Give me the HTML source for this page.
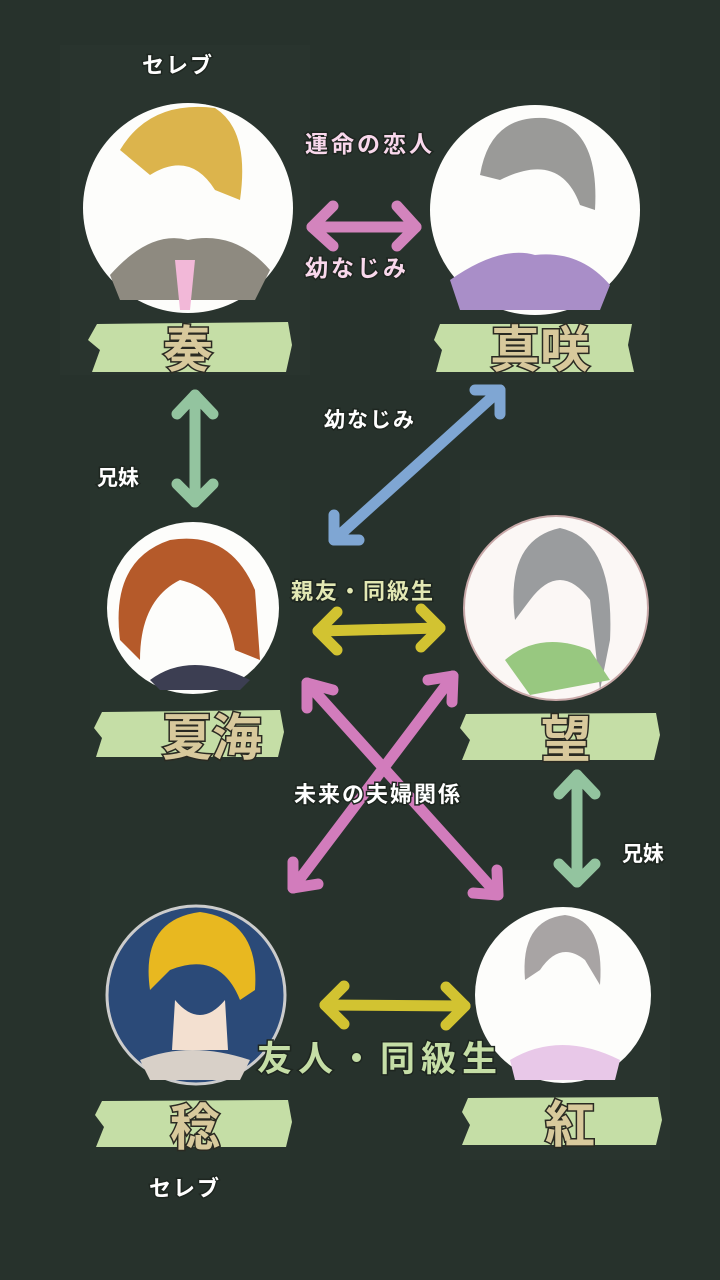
<!DOCTYPE html>
<html><head><meta charset="utf-8"><style>
html,body{margin:0;padding:0;background:#28332d;}
svg{display:block}
text{font-family:"Liberation Sans","Noto Sans CJK JP",sans-serif;font-weight:bold;}
</style></head><body>
<svg width="720" height="1280" viewBox="0 0 720 1280" xmlns="http://www.w3.org/2000/svg">
<rect width="720" height="1280" fill="#27322c"/>
<rect x="60" y="45" width="250" height="330" fill="#2c3832" opacity="0.4"/>
<rect x="410" y="50" width="250" height="330" fill="#2d3933" opacity="0.35"/>
<rect x="90" y="480" width="200" height="290" fill="#2c3832" opacity="0.35"/>
<rect x="460" y="470" width="230" height="300" fill="#2e3a34" opacity="0.3"/>
<rect x="90" y="860" width="200" height="300" fill="#2c3832" opacity="0.35"/>
<rect x="460" y="870" width="210" height="290" fill="#2d3933" opacity="0.35"/>

<g>
<circle cx="188" cy="208" r="105" fill="#fdfdfb"/>
<path d="M120 150 Q150 100 215 108 Q250 130 240 200 L215 190 Q190 150 150 175 Z" fill="#dcb44c"/>
<path d="M110 275 Q150 230 188 240 Q235 230 270 270 L255 300 L120 300 Z" fill="#8e8a80"/>
<path d="M175 260 L195 260 L190 310 L180 310 Z" fill="#f2b8d8"/>
<circle cx="535" cy="210" r="105" fill="#fdfdfb"/>
<path d="M480 175 Q490 115 545 118 Q600 125 595 210 L580 205 Q560 150 500 180 Z" fill="#9a9a98"/>
<path d="M450 280 Q500 245 535 255 Q580 250 610 285 L600 310 L460 310 Z" fill="#a98ec8"/>
<circle cx="193" cy="608" r="86" fill="#fdfdfb"/>
<path d="M120 640 Q110 560 170 540 Q230 530 255 590 L260 660 L235 650 Q225 590 180 580 Q140 600 140 660 Z" fill="#b55a2a"/>
<path d="M150 680 Q190 650 250 680 L240 690 L160 690 Z" fill="#3c3e52"/>
<circle cx="556" cy="608" r="92" fill="#fbf7f5" stroke="#c8a8a8" stroke-width="2"/>
<path d="M515 620 Q505 540 560 528 Q615 540 610 640 L600 690 L590 600 Q560 560 530 600 Z" fill="#9a9c9e"/>
<path d="M505 660 Q540 630 590 650 L610 680 L530 695 Z" fill="#98c880"/>
<circle cx="196" cy="995" r="89" fill="#2b4a78" stroke="#cccccc" stroke-width="3"/>
<path d="M150 990 Q140 920 200 912 Q260 920 255 990 L240 1000 Q220 950 170 970 Z" fill="#e8b820"/>
<path d="M175 1000 Q200 1030 225 1000 L228 1050 L172 1050 Z" fill="#f3e0d0"/>
<path d="M140 1060 Q190 1040 250 1060 L240 1080 L150 1080 Z" fill="#d8d0c8"/>
<circle cx="563" cy="995" r="88" fill="#fdfdfb"/>
<path d="M525 980 Q520 920 565 915 Q605 920 600 985 L585 960 Q560 940 540 970 Z" fill="#a8a4a4"/>
<path d="M510 1060 Q560 1030 620 1060 L615 1080 L515 1080 Z" fill="#e8c8e8"/>
</g>

<g fill="#c5dea6">
<path d="M97 324 L288 322 L292 345 L286 372 L92 372 L100 350 L88 340 Z"/>
<path d="M440 324 L632 324 L628 345 L634 372 L436 372 L442 350 L434 340 Z"/>
<path d="M102 712 L280 710 L284 732 L278 757 L96 757 L102 738 L94 728 Z"/>
<path d="M466 714 L656 713 L660 735 L654 760 L462 760 L470 740 L460 728 Z"/>
<path d="M102 1101 L288 1100 L292 1122 L286 1147 L96 1147 L104 1127 L95 1115 Z"/>
<path d="M468 1098 L658 1097 L662 1120 L656 1145 L462 1145 L470 1125 L462 1112 Z"/>
</g>
<g font-size="50" fill="#d8c99c" stroke="#2a2a22" stroke-width="3" paint-order="stroke" text-anchor="middle">
<text x="188" y="367">奏</text>
<text x="540" y="367">真咲</text>
<text x="212" y="755">夏海</text>
<text x="566" y="757">望</text>
<text x="195" y="1145">稔</text>
<text x="570" y="1142">紅</text>
</g>

<g fill="none" stroke-linecap="round" stroke-linejoin="round" stroke-width="11">
<g stroke="#d384bd">
<line x1="312" y1="227" x2="416" y2="227"/>
<polyline points="333,206 312,227 333,246"/>
<polyline points="397,206 416,227 397,246"/>
</g>
<g stroke="#93c49f">
<line x1="195" y1="395" x2="195" y2="502"/>
<polyline points="177,414 195,395 213,414"/>
<polyline points="177,484 195,502 213,484"/>
<line x1="577" y1="775" x2="577" y2="882"/>
<polyline points="559,794 577,775 595,794"/>
<polyline points="559,864 577,882 595,864"/>
</g>
<g stroke="#7fa6d3">
<line x1="500" y1="390" x2="334" y2="540"/>
<polyline points="475,390 500,390 500,414"/>
<polyline points="334,515 334,540 359,540"/>
</g>
<g stroke="#d2c331">
<line x1="318" y1="631" x2="440" y2="628"/>
<polyline points="337,612 318,631 337,650"/>
<polyline points="421,609 440,628 421,647"/>
<line x1="325" y1="1005" x2="465" y2="1006"/>
<polyline points="344,986 325,1005 344,1024"/>
<polyline points="446,987 465,1006 446,1025"/>
</g>
<g stroke="#d27cbc">
<line x1="307" y1="683" x2="498" y2="895"/>
<polyline points="307,708 307,683 333,690"/>
<polyline points="473,893 498,895 497,870"/>
<line x1="453" y1="676" x2="293" y2="888"/>
<polyline points="428,680 453,676 452,702"/>
<polyline points="293,862 293,888 318,884"/>
</g>
</g>

<g text-anchor="middle" stroke="#1e2620" stroke-width="3" paint-order="stroke">
<text x="178" y="73" font-size="22" fill="#ffffff" letter-spacing="2">セレブ</text>
<text x="370" y="152" font-size="23" fill="#f9d8ec" letter-spacing="3">運命の恋人</text>
<text x="357" y="276" font-size="23" fill="#f9d8ec" letter-spacing="3">幼なじみ</text>
<text x="370" y="427" font-size="21" fill="#ffffff" letter-spacing="2">幼なじみ</text>
<text x="118" y="485" font-size="21" fill="#ffffff">兄妹</text>
<text x="363" y="599" font-size="22" fill="#e3e8b4" letter-spacing="2">親友・同級生</text>
<text x="378" y="802" font-size="22" fill="#ffffff" letter-spacing="2">未来の夫婦関係</text>
<text x="643" y="861" font-size="21" fill="#ffffff">兄妹</text>
<text x="380" y="1071" font-size="35" fill="#c5dea6" letter-spacing="6">友人・同級生</text>
<text x="185" y="1196" font-size="22" fill="#ffffff" letter-spacing="2">セレブ</text>
</g>
</svg>
</body></html>
